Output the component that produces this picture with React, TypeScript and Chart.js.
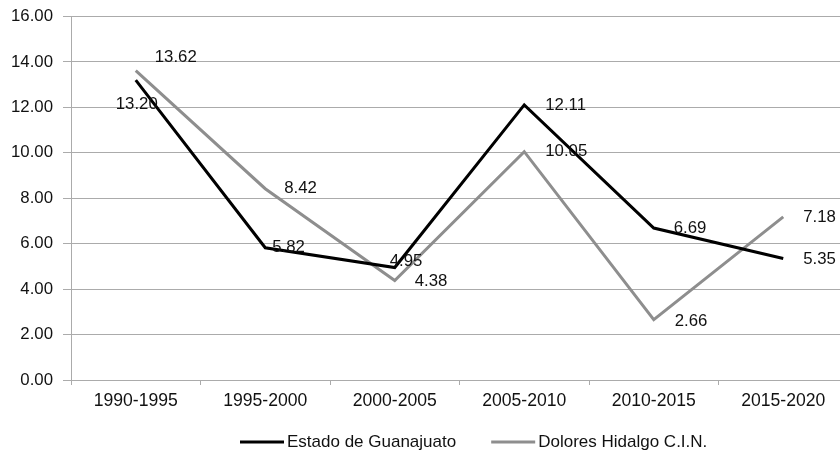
import React, { useEffect, useRef } from "react";
import { Chart, registerables } from "chart.js";

Chart.register(...registerables);

const categories = ["1990-1995", "1995-2000", "2000-2005", "2005-2010", "2010-2015", "2015-2020"];
const guanajuato = [13.2, 5.82, 4.95, 12.11, 6.69, 5.35];
const dolores = [13.62, 8.42, 4.38, 10.05, 2.66, 7.18];
const seriesNames = ["Estado de Guanajuato", "Dolores Hidalgo C.I.N."];
const seriesColors = ["#000000", "#8e8e8e"];

const FONT = "'Liberation Sans', Arial, sans-serif";
const GRID = "#ababab";

// label placement (style): [dx, dy, align]
const labelOffsets: [number, number, CanvasTextAlign][][] = [
  [[1, 24, "center"], [7, 0, "left"], [-5, -6, "left"], [21, 0, "left"], [20, 0, "left"], [20, 1, "left"]],
  [[19, -13, "left"], [19, 0, "left"], [20, 1, "left"], [21, 0, "left"], [21, 2, "left"], [20, 0, "left"]],
];

const dataLabelPlugin = {
  id: "dataLabels",
  afterDatasetsDraw(chart: any) {
    const ctx = chart.ctx;
    ctx.save();
    ctx.font = `16.8px ${FONT}`;
    ctx.fillStyle = "#111";
    ctx.textBaseline = "middle";
    chart.data.datasets.forEach((ds: any, di: number) => {
      const meta = chart.getDatasetMeta(di);
      meta.data.forEach((pt: any, i: number) => {
        const [dx, dy, align] = labelOffsets[di][i];
        ctx.textAlign = align;
        ctx.fillText(Number(ds.data[i]).toFixed(2), pt.x + dx, pt.y + dy);
      });
    });
    ctx.restore();
  },
};

const legendPlugin = {
  id: "customLegend",
  afterDraw(chart: any) {
    const ctx = chart.ctx;
    ctx.save();
    ctx.font = `17px ${FONT}`;
    ctx.textBaseline = "middle";
    ctx.textAlign = "left";
    let x = 240;
    const y = 442;
    chart.data.datasets.forEach((ds: any) => {
      ctx.strokeStyle = ds.borderColor;
      ctx.lineWidth = 3;
      ctx.beginPath();
      ctx.moveTo(x, y);
      ctx.lineTo(x + 44, y);
      ctx.stroke();
      ctx.fillStyle = "#111";
      ctx.fillText(ds.label, x + 47, y);
      x += 47 + ctx.measureText(ds.label).width + 35;
    });
    ctx.restore();
  },
};

export default function App() {
  const ref = useRef<HTMLCanvasElement>(null);
  useEffect(() => {
    if (!ref.current) return;
    const chart = new Chart(ref.current, {
      type: "line",
      data: {
        labels: categories,
        datasets: [
          { label: seriesNames[0], data: guanajuato, borderColor: seriesColors[0], backgroundColor: seriesColors[0], borderWidth: 3, pointRadius: 0, tension: 0 },
          { label: seriesNames[1], data: dolores, borderColor: seriesColors[1], backgroundColor: seriesColors[1], borderWidth: 3, pointRadius: 0, tension: 0 },
        ],
      },
      options: {
        responsive: false,
        animation: false,
        layout: { padding: { top: 16.5, right: 12, bottom: 0, left: 0 } },
        plugins: { legend: { display: false }, tooltip: { enabled: false } },
        scales: {
          x: {
            offset: true,
            grid: { display: true, drawOnChartArea: false, drawTicks: true, tickLength: 5, color: GRID, offset: true },
            border: { display: true, color: GRID },
            ticks: { color: "#111", font: { family: FONT, size: 17.6 }, padding: 6, maxRotation: 0 },
            afterFit: (s: any) => { s.height = 84; s.paddingLeft = 0; s.paddingRight = 0; },
          },
          y: {
            min: 0,
            max: 16,
            ticks: { stepSize: 2, color: "#111", font: { family: FONT, size: 16.8 }, padding: 10, callback: (v: any) => Number(v).toFixed(2) },
            grid: { color: GRID, tickLength: 8, drawTicks: true },
            border: { display: true, color: GRID },
            afterFit: (s: any) => { s.width = 71; s.paddingTop = 0; s.paddingBottom = 0; },
          },
        },
      },
      plugins: [dataLabelPlugin, legendPlugin],
    });
    return () => chart.destroy();
  }, []);
  return (
    <div style={{ position: "fixed", left: 0, top: 0, width: 840, height: 464, overflow: "hidden", background: "#fff" }}>
      <canvas ref={ref} width={860} height={464} style={{ width: 860, height: 464, display: "block" }} />
    </div>
  );
}
